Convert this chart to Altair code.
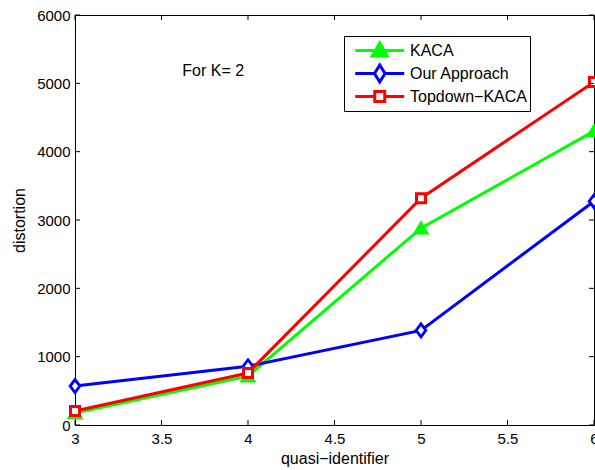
import altair as alt
import pandas as pd

# ---------------- data ----------------
X_VALUES = [3, 4, 5, 6]
SERIES = ["KACA", "Our Approach", "Topdown\u2212KACA"]
KACA = [175, 715, 2880, 4300]
OUR_APPROACH = [570, 860, 1385, 3275]
TOPDOWN_KACA = [205, 760, 3320, 5020]
X_TICKS = [3, 3.5, 4, 4.5, 5, 5.5, 6]
Y_TICKS = [0, 1000, 2000, 3000, 4000, 5000, 6000]
ANNOTATION = "For K= 2"
ANNOT_X = [3.62]
ANNOT_Y = [5180]

# ---------------- style ----------------
COLORS = ["#00ff00", "#0000ff", "#ff0000"]
FILLS = ["#00ff00", "#ffffff", "#ffffff"]
FONT = "Liberation Sans"
W, H = 519, 410

PLOT_SHAPES = [
    "M-1,0.8L1,0.8L0,-0.9Z",
    "M0,-1L0.75,0L0,1L-0.75,0Z",
    "M-1,-1L1,-1L1,1L-1,1Z",
]
PLOT_SIZES = [169, 169, 81]
PLOT_STROKES = [2.2, 2.8, 3.0]

# legend symbol: line + marker, drawn as one custom path
a, m = -0.766, 0.117


def f(v):
    return f"{v:.3f}"


LEGEND_PATHS = [
    f"M{f(a)},0L1,0M{f(m-0.27)},0.2L{f(m+0.27)},0.2L{f(m)},-0.27Z",
    f"M{f(a)},0L{f(m-0.19)},0M{f(m+0.19)},0L1,0"
    f"M{f(m)},-0.3L{f(m+0.19)},0L{f(m)},0.3L{f(m-0.19)},0Z",
    f"M{f(a)},0L{f(m-0.18)},0M{f(m+0.18)},0L1,0"
    f"M{f(m-0.18)},-0.18L{f(m+0.18)},-0.18L{f(m+0.18)},0.18L{f(m-0.18)},0.18Z",
]

rows = []
for s, vals in zip(SERIES, [KACA, OUR_APPROACH, TOPDOWN_KACA]):
    for xv, yv in zip(X_VALUES, vals):
        rows.append({"series": s, "x": xv, "y": yv})
df = pd.DataFrame(rows)

xscale = alt.Scale(domain=[3, 6], nice=False, zero=False)
yscale = alt.Scale(domain=[0, 6000], nice=False, zero=False)

xaxis = alt.Axis(values=X_TICKS, format="~g", labelFlush=False, labelPadding=6,
                 titlePadding=4, labelOverlap=False)
yaxis = alt.Axis(values=Y_TICKS, format="d", labelFlush=False, labelPadding=5,
                 titlePadding=9, labelOverlap=False)

xenc = alt.X("x:Q", scale=xscale, axis=xaxis, title="quasi\u2212identifier")
yenc = alt.Y("y:Q", scale=yscale, axis=yaxis, title="distortion")

base = alt.Chart(df)
layers = []
for i, s in enumerate(SERIES):
    sub = base.transform_filter(alt.FieldEqualPredicate(field="series", equal=s))
    layers.append(sub.mark_line(color=COLORS[i], strokeWidth=3).encode(x=xenc, y=yenc))
    layers.append(
        sub.mark_point(shape=PLOT_SHAPES[i], size=PLOT_SIZES[i], filled=True,
                       fill=FILLS[i], stroke=COLORS[i], strokeWidth=PLOT_STROKES[i], opacity=1)
        .encode(x=xenc, y=yenc)
    )

legend = alt.Legend(title=None)
legend_layer = base.mark_point(opacity=0, filled=True).encode(
    x=xenc,
    y=yenc,
    stroke=alt.Stroke("series:N", scale=alt.Scale(domain=SERIES, range=COLORS), legend=legend),
    fill=alt.Fill("series:N", scale=alt.Scale(domain=SERIES, range=FILLS), legend=legend),
    shape=alt.Shape("series:N", scale=alt.Scale(domain=SERIES, range=LEGEND_PATHS), legend=legend),
)
layers.append(legend_layer)

# inward ticks on all four sides
xt = alt.Chart(pd.DataFrame({"x": X_TICKS}))
yt = alt.Chart(pd.DataFrame({"y": Y_TICKS}))
layers.append(xt.mark_rule(color="black", strokeWidth=1).encode(
    x=xenc, y=alt.value(H), y2=alt.value(H - 5)))
layers.append(xt.mark_rule(color="black", strokeWidth=1).encode(
    x=xenc, y=alt.value(0), y2=alt.value(5)))
layers.append(yt.mark_rule(color="black", strokeWidth=1).encode(
    y=yenc, x=alt.value(0), x2=alt.value(5)))
layers.append(yt.mark_rule(color="black", strokeWidth=1).encode(
    y=yenc, x=alt.value(W), x2=alt.value(W - 5)))

# annotation
ann = alt.Chart(pd.DataFrame({"x": ANNOT_X, "y": ANNOT_Y, "label": [ANNOTATION]})).mark_text(
    align="left", baseline="middle", font=FONT, fontSize=16, color="black"
).encode(x=xenc, y=yenc, text="label:N")
layers.append(ann)

chart = alt.layer(*layers).properties(
    width=W,
    height=H,
    autosize=alt.AutoSizeParams(type="none"),
    padding={"left": 75, "top": 15, "right": 1, "bottom": 45},
).configure_view(
    stroke="black", strokeWidth=1
).configure_axis(
    domain=False, ticks=False, grid=False,
    labelFont=FONT, labelFontSize=15, labelColor="black",
    titleFont=FONT, titleFontSize=16, titleFontWeight="normal", titleColor="black",
).configure_legend(
    orient="none", legendX=269, legendY=21, padding=3,
    strokeColor="black", fillColor="white", cornerRadius=0,
    symbolSize=3080, symbolStrokeWidth=3, symbolOpacity=1,
    labelFont=FONT, labelFontSize=16, labelColor="black", labelOffset=4,
    clipHeight=23, rowPadding=0, labelLimit=0,
)

chart.save("out.html", embed_options={"renderer": "svg", "actions": False})
